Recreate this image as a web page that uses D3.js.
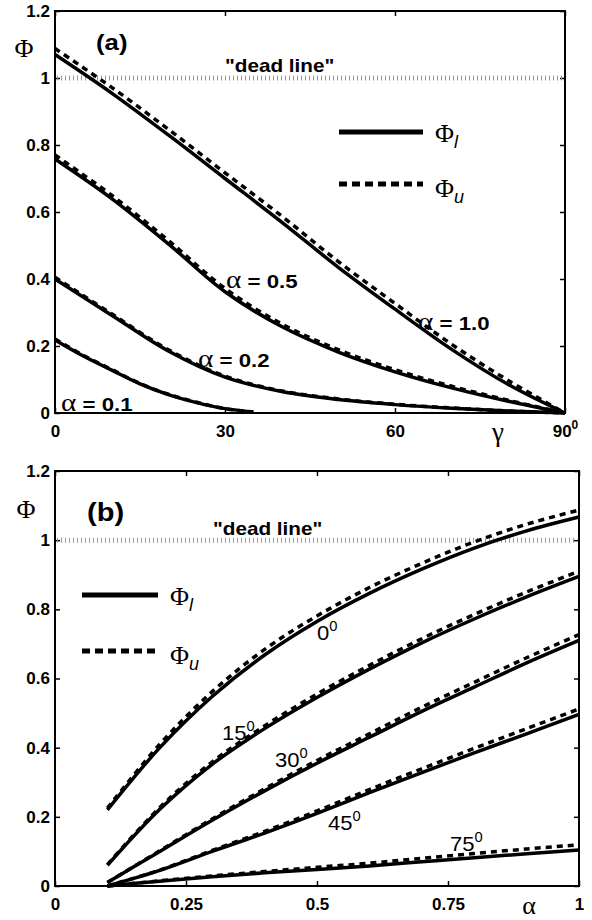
<!DOCTYPE html>
<html>
<head>
<meta charset="utf-8">
<script src="https://cdn.jsdelivr.net/npm/d3@7/dist/d3.min.js"></script>
<style>
body { margin: 0; background: #fff; }
svg { display: block; }
.axis path { display: none; }
.axis line { stroke: #000; stroke-width: 1.5; }
.axis text { font-family: "Liberation Sans", Arial, sans-serif; font-weight: bold; font-size: 17px; fill: #000; }
</style>
</head>
<body>
<svg id="chart" width="592" height="920"></svg>
<script>
// ---- panel (a): Phi vs gamma (degrees) ----
const gammaDeg = [0, 10, 20, 30, 40, 50, 60, 70, 80, 90];
const gammaShort = [0, 5, 10, 15, 20, 25, 30, 35];   // alpha = 0.1 curve stops early

const phiL_a10 = [1.07, 0.955, 0.83, 0.70, 0.57, 0.435, 0.31, 0.19, 0.085, 0];
const phiU_a10 = [1.088, 0.972, 0.847, 0.717, 0.588, 0.452, 0.327, 0.205, 0.097, 0];
const phiL_a05 = [0.758, 0.64, 0.505, 0.362, 0.258, 0.182, 0.123, 0.075, 0.035, 0];
const phiU_a05 = [0.77, 0.65, 0.515, 0.372, 0.266, 0.189, 0.129, 0.08, 0.038, 0];
const phiL_a02 = [0.40, 0.292, 0.185, 0.107, 0.064, 0.04, 0.025, 0.014, 0.006, 0];
const phiU_a02 = [0.405, 0.296, 0.189, 0.11, 0.066, 0.042, 0.026, 0.015, 0.006, 0];
const phiL_a01 = [0.218, 0.17, 0.128, 0.087, 0.055, 0.031, 0.013, 0.003];
const phiU_a01 = [0.221, 0.172, 0.13, 0.088, 0.056, 0.032, 0.013, 0.003];

const gammaTicks = [0, 30, 60, 90];
const phiTicks = [0, 0.2, 0.4, 0.6, 0.8, 1, 1.2];

// ---- panel (b): Phi vs alpha ----
const alphaVals = [0.1, 0.2, 0.3, 0.4, 0.5, 0.6, 0.7, 0.8, 0.9, 1.0];

const phiL_g0  = [0.22, 0.40, 0.548, 0.668, 0.765, 0.846, 0.916, 0.977, 1.027, 1.067];
const phiU_g0  = [0.225, 0.41, 0.562, 0.684, 0.781, 0.863, 0.933, 0.995, 1.046, 1.087];
const phiL_g15 = [0.06, 0.222, 0.352, 0.455, 0.545, 0.627, 0.703, 0.772, 0.836, 0.895];
const phiU_g15 = [0.062, 0.227, 0.359, 0.463, 0.555, 0.638, 0.715, 0.785, 0.85, 0.91];
const phiL_g30 = [0.01, 0.10, 0.19, 0.275, 0.355, 0.43, 0.505, 0.575, 0.645, 0.71];
const phiU_g30 = [0.01, 0.102, 0.194, 0.281, 0.363, 0.44, 0.517, 0.589, 0.66, 0.727];
const phiL_g45 = [0, 0.045, 0.10, 0.153, 0.21, 0.27, 0.328, 0.385, 0.44, 0.496];
const phiU_g45 = [0, 0.046, 0.103, 0.158, 0.217, 0.279, 0.339, 0.398, 0.455, 0.512];
const phiL_g75 = [0, 0.014, 0.027, 0.038, 0.048, 0.058, 0.07, 0.082, 0.093, 0.104];
const phiU_g75 = [0, 0.015, 0.029, 0.042, 0.054, 0.066, 0.08, 0.094, 0.107, 0.119];

const alphaTicks = [0, 0.25, 0.5, 0.75, 1];

const svg = d3.select("#chart");
const SANS = '"Liberation Sans", Arial, sans-serif';
const SERIF = '"Liberation Serif", "Times New Roman", serif';

// text helper: parts are tspans, whole label stretched horizontally a bit
function label(g, x, y, parts, sx, anchor) {
  let t = g.append("text")
    .attr("transform", "translate(" + x + "," + y + ") scale(" + (sx || 1) + ",1)")
    .attr("text-anchor", anchor || "start")
    .attr("fill", "#000");
  parts.forEach(function(p) {
    t.append("tspan")
      .attr("font-family", p.serif ? SERIF : SANS)
      .attr("font-size", p.size)
      .attr("font-weight", p.bold ? "bold" : "normal")
      .attr("font-style", p.italic ? "italic" : "normal")
      .attr("dy", p.dy || 0)
      .text(p.t);
  });
  return t;
}

function fmtPhi(d) {
  return (d === 0 || d === 1) ? String(d) : d3.format(".1f")(d);
}

function drawFrame(g, x, y, xTicks, xFmt) {
  let [x0, x1] = x.range();
  let [y0, y1] = y.range();

  let bottomAxis = g.append("g").attr("class", "axis xbottom")
    .attr("transform", "translate(0," + y0 + ")")
    .call(d3.axisBottom(x).tickValues(xTicks).tickSize(-5).tickPadding(12).tickFormat(xFmt));
  g.append("g").attr("class", "axis")
    .attr("transform", "translate(0," + y1 + ")")
    .call(d3.axisTop(x).tickValues(xTicks).tickSize(-5).tickFormat(""));
  g.append("g").attr("class", "axis")
    .attr("transform", "translate(" + x0 + ",0)")
    .call(d3.axisLeft(y).tickValues(phiTicks).tickSize(-5).tickPadding(5).tickFormat(fmtPhi));
  g.append("g").attr("class", "axis")
    .attr("transform", "translate(" + x1 + ",0)")
    .call(d3.axisRight(y).tickValues(phiTicks).tickSize(-5).tickFormat(""));

  g.append("rect")
    .attr("x", x0).attr("y", y1)
    .attr("width", x1 - x0).attr("height", y0 - y1)
    .attr("fill", "none").attr("stroke", "#000").attr("stroke-width", 2);

  // "dead line" at Phi = 1
  g.append("line")
    .attr("x1", x0 + 2).attr("x2", x1 - 2)
    .attr("y1", y(1)).attr("y2", y(1))
    .attr("stroke", "#999").attr("stroke-width", 5)
    .attr("stroke-dasharray", "1,3");

  return bottomAxis;
}

function drawCurves(g, x, y, series) {
  let line = d3.line()
    .x(d => x(d[0]))
    .y(d => y(d[1]))
    .curve(d3.curveCatmullRom.alpha(0.5));

  series.forEach(function(s) {
    g.append("path")
      .attr("d", line(d3.zip(s.x, s.u)))
      .attr("fill", "none").attr("stroke", "#000")
      .attr("stroke-width", 3.5).attr("stroke-dasharray", "6,5");
    g.append("path")
      .attr("d", line(d3.zip(s.x, s.l)))
      .attr("fill", "none").attr("stroke", "#000")
      .attr("stroke-width", 3.5);
  });
}

function drawLegend(g, x0, x1, yl, yu, tx) {
  g.append("line").attr("x1", x0).attr("x2", x1).attr("y1", yl).attr("y2", yl)
    .attr("stroke", "#000").attr("stroke-width", 5);
  g.append("line").attr("x1", x0).attr("x2", x1).attr("y1", yu).attr("y2", yu)
    .attr("stroke", "#000").attr("stroke-width", 5).attr("stroke-dasharray", "8,5");
  label(g, tx, yl + 10, [{t: "Φ", serif: true, size: 26}, {t: "l", italic: true, size: 18, dy: 6}], 1);
  label(g, tx, yu + 13, [{t: "Φ", serif: true, size: 26}, {t: "u", italic: true, size: 18, dy: 6}], 1);
}

// ================= panel (a) =================
let xA = d3.scaleLinear().domain([0, 90]).range([55, 565]);
let yA = d3.scaleLinear().domain([0, 1.2]).range([413, 11]);
let gA = svg.append("g");

let axA = drawFrame(gA, xA, yA, gammaTicks, d => String(d));
// degree mark on 90
axA.selectAll("text").filter(d => d === 90)
  .append("tspan").attr("font-size", 12).attr("dy", -8).text("0");

drawCurves(gA, xA, yA, [
  {x: gammaDeg, l: phiL_a10, u: phiU_a10},
  {x: gammaDeg, l: phiL_a05, u: phiU_a05},
  {x: gammaDeg, l: phiL_a02, u: phiU_a02},
  {x: gammaShort, l: phiL_a01, u: phiU_a01}
]);

label(gA, 96, 50, [{t: "(a)", bold: true, size: 23}], 1.12);
label(gA, 24, 57, [{t: "Φ", serif: true, size: 26}], 1, "middle");
label(gA, 498, 441, [{t: "γ", serif: true, size: 27}], 1, "middle");
label(gA, 225, 72, [{t: "\"dead line\"", bold: true, size: 18}], 1.15);
drawLegend(gA, 339, 423, 132, 184, 435);

const alphaLabelsA = [
  {t: " = 1.0", x: 418, y: 330},
  {t: " = 0.5", x: 226, y: 288},
  {t: " = 0.2", x: 198, y: 367},
  {t: " = 0.1", x: 61, y: 411}
];
alphaLabelsA.forEach(function(d) {
  label(gA, d.x, d.y, [{t: "α", serif: true, size: 25}, {t: d.t, bold: true, size: 19}], 1.17);
});

// ================= panel (b) =================
let xB = d3.scaleLinear().domain([0, 1]).range([55, 579]);
let yB = d3.scaleLinear().domain([0, 1.2]).range([886, 471]);
let gB = svg.append("g");

drawFrame(gB, xB, yB, alphaTicks, d => String(d));

drawCurves(gB, xB, yB, [
  {x: alphaVals, l: phiL_g0, u: phiU_g0},
  {x: alphaVals, l: phiL_g15, u: phiU_g15},
  {x: alphaVals, l: phiL_g30, u: phiU_g30},
  {x: alphaVals, l: phiL_g45, u: phiU_g45},
  {x: alphaVals, l: phiL_g75, u: phiU_g75}
]);

label(gB, 87, 521, [{t: "(b)", bold: true, size: 26}], 1.12);
label(gB, 26, 518, [{t: "Φ", serif: true, size: 26}], 1, "middle");
label(gB, 529, 914, [{t: "α", serif: true, size: 26}], 1, "middle");
label(gB, 213, 535, [{t: "\"dead line\"", bold: true, size: 18}], 1.15);
drawLegend(gB, 82, 158, 595, 651, 170);

const angleLabelsB = [
  {t: "0", x: 317, y: 640},
  {t: "15", x: 222, y: 740},
  {t: "30", x: 275, y: 767},
  {t: "45", x: 328, y: 830},
  {t: "75", x: 450, y: 851}
];
angleLabelsB.forEach(function(d) {
  label(gB, d.x, d.y, [{t: d.t, size: 21}, {t: "0", size: 14, dy: -9}], 1.05);
});
</script>
</body>
</html>
